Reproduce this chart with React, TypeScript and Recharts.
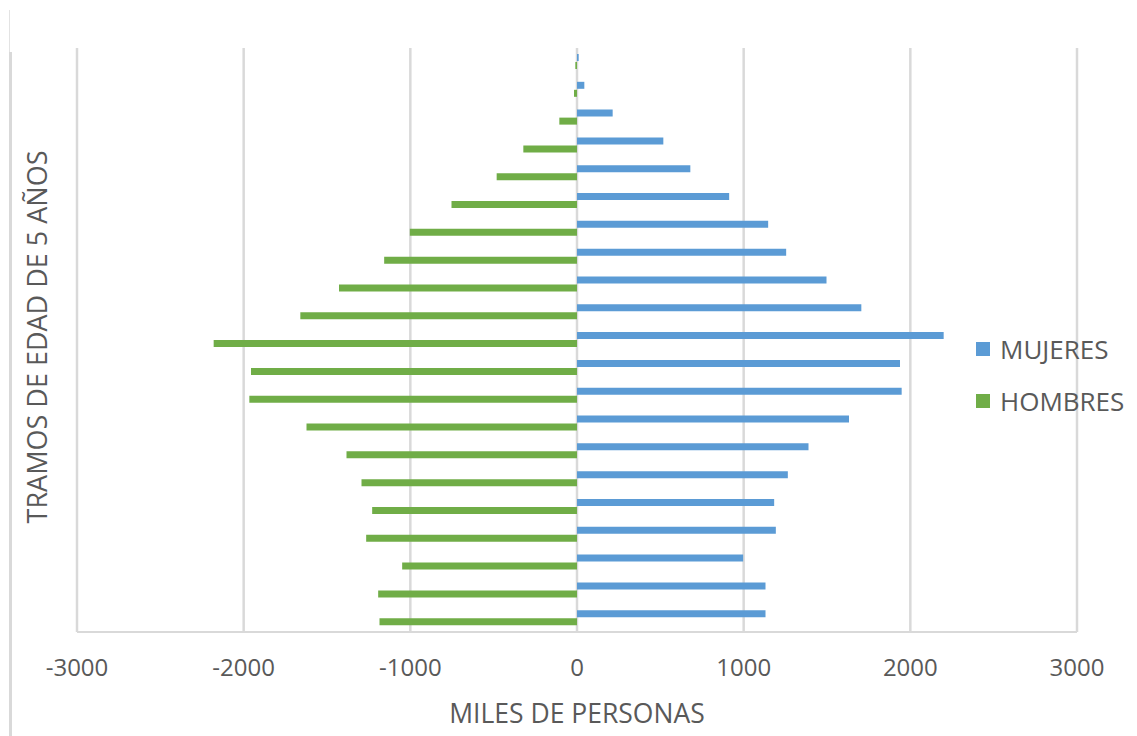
import * as React from 'react';
import { BarChart, Bar, XAxis, YAxis, CartesianGrid, Label } from 'recharts';

// age brackets, oldest first so they read top-down
const grupos = ['100+', '95-99', '90-94', '85-89', '80-84', '75-79', '70-74', '65-69', '60-64', '55-59', '50-54', '45-49', '40-44', '35-39', '30-34', '25-29', '20-24', '15-19', '10-14', '5-9', '0-4'];
const mujeres = [10, 44, 214, 518, 680, 913, 1147, 1255, 1497, 1706, 2200, 1938, 1948, 1632, 1389, 1265, 1183, 1193, 997, 1131, 1131];
const hombres = [-10, -18, -106, -322, -482, -753, -1003, -1157, -1428, -1660, -2180, -1956, -1966, -1623, -1383, -1293, -1229, -1265, -1049, -1193, -1185];
const xTicks = [-3000, -2000, -1000, 0, 1000, 2000, 3000];

const series = [
  { key: 'mujeres', name: 'MUJERES', color: '#5B9BD5' },
  { key: 'hombres', name: 'HOMBRES', color: '#70AD47' },
];

const FONT = '"Open Sans", "Noto Sans", sans-serif';
const TXT = '#595959';
const GRID = '#d9d9d9';

// rotated title for the age axis
function AgeTitle({ value }: { value?: string }) {
  return (
    <text x={36} y={337} transform="rotate(-90 36 337)" textAnchor="middle" dominantBaseline="central"
      fill={TXT} fontSize={27} fontFamily={FONT}>{value}</text>
  );
}

export default function App() {
  const data = grupos.map((g, i) => ({ grupo: g, mujeres: mujeres[i], hombres: hombres[i] }));
  return (
    <div style={{ position: 'absolute', left: 0, top: 0, width: 1137, height: 736, background: '#fff', fontFamily: FONT }}>
      {/* frame edge on the left */}
      <div style={{ position: 'absolute', left: 9, top: 10, width: 1, height: 42, background: '#e3e3e3' }} />
      <div style={{ position: 'absolute', left: 9, top: 52, width: 3, height: 684, background: GRID }} />
      <BarChart width={1137} height={736} data={data} layout="vertical" barSize={7} barGap={1}
        margin={{ top: 48, right: 60, bottom: 0, left: 0 }}>
        <CartesianGrid horizontal={false} stroke={GRID} strokeWidth={2.5} />
        <XAxis type="number" domain={[-3000, 3000]} ticks={xTicks} height={104}
          axisLine={{ stroke: GRID, strokeWidth: 2 }} tickLine={false} tickSize={0} tickMargin={27}
          tick={{ fill: TXT, fontSize: 24, fontFamily: FONT }}>
          <Label value="MILES DE PERSONAS" position="insideBottom" offset={13}
            style={{ fill: TXT, fontSize: 26.5, fontFamily: FONT }} />
        </XAxis>
        <YAxis type="category" dataKey="grupo" width={77} tick={false} axisLine={false} tickLine={false}>
          <Label value="TRAMOS DE EDAD DE 5 AÑOS" content={<AgeTitle value="TRAMOS DE EDAD DE 5 AÑOS" />} />
        </YAxis>
        {series.map(s => (
          <Bar key={s.key} dataKey={s.key} name={s.name} fill={s.color} isAnimationActive={false} />
        ))}
      </BarChart>
      <div style={{ position: 'absolute', left: 976, top: 332 }}>
        {series.map(s => (
          <div key={s.key} style={{ display: 'flex', alignItems: 'center', height: 34, marginBottom: 18 }}>
            <span style={{ width: 14, height: 14, background: s.color, marginRight: 10 }} />
            <span style={{ fontSize: 26, color: TXT, lineHeight: '34px' }}>{s.name}</span>
          </div>
        ))}
      </div>
    </div>
  );
}
